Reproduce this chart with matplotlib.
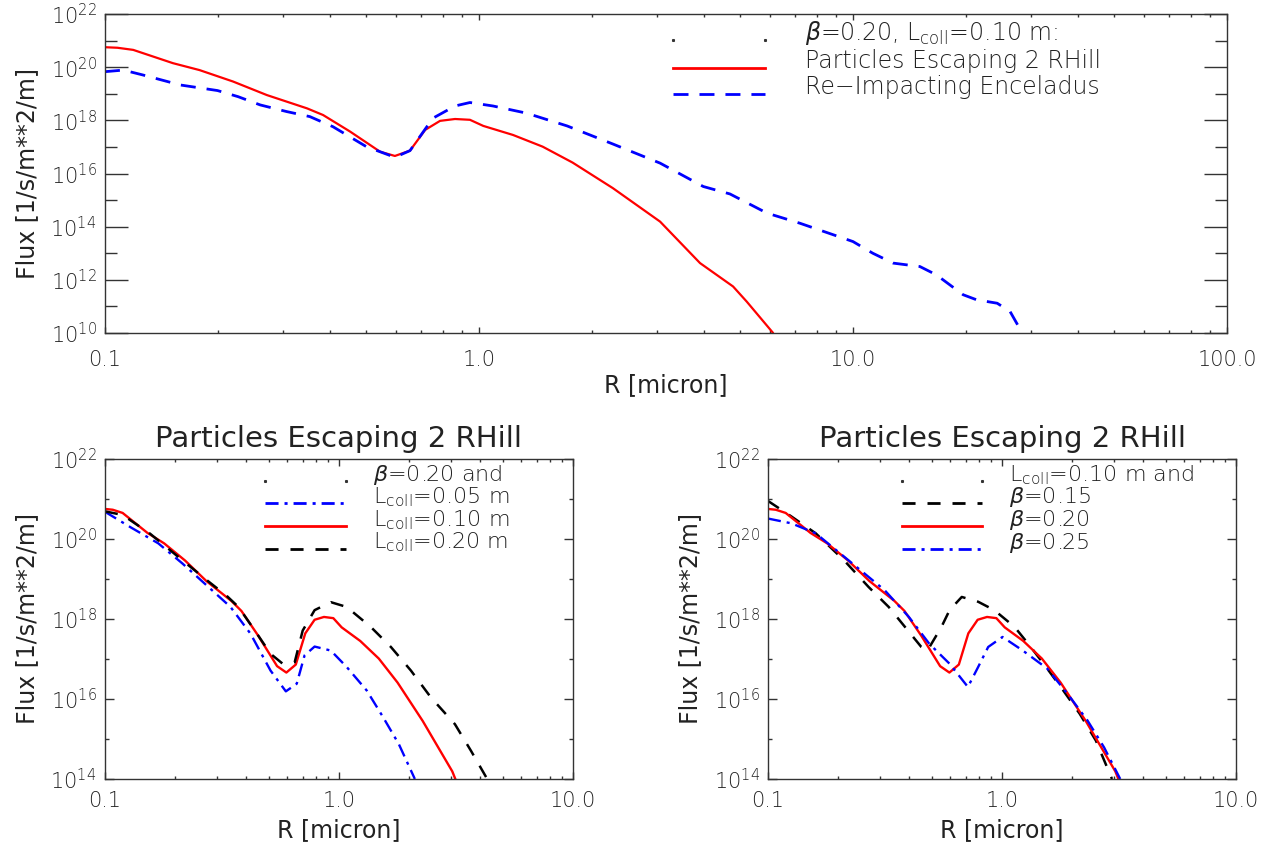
import matplotlib
matplotlib.use("Agg")
import matplotlib.pyplot as plt
import numpy as np
from matplotlib.ticker import FixedLocator, NullFormatter, LogLocator

# ---------------- data ----------------
# beta=0.20, Lcoll=0.10 m : particles escaping 2 RHill (red, used in all panels)
r_esc = [0.1, 0.108, 0.119, 0.152, 0.179, 0.22, 0.271, 0.347, 0.383, 0.452, 0.544,
         0.596, 0.654, 0.718, 0.787, 0.863, 0.946, 1.027, 1.233, 1.48, 1.78, 2.28,
         3.05, 3.90, 4.78, 5.2, 6.1]
logf_esc = [20.75, 20.73, 20.65, 20.15, 19.89, 19.46, 18.95, 18.45, 18.2, 17.58, 16.82,
            16.66, 16.86, 17.64, 17.98, 18.05, 18.02, 17.79, 17.45, 17.01, 16.41, 15.45,
            14.19, 12.63, 11.75, 11.18, 10.02]

# beta=0.20, Lcoll=0.10 m : re-impacting Enceladus (blue dashed, top panel)
r_imp = [0.1, 0.112, 0.126, 0.159, 0.2, 0.227, 0.26, 0.306, 0.353, 0.407, 0.5, 0.596,
         0.654, 0.753, 0.863, 0.946, 1.09, 1.34, 1.72, 2.28, 3.05, 3.98, 4.69, 5.89,
         7.21, 10.0, 11.3, 12.8, 15.1, 16.7, 19.7, 21.4, 24.3, 26.3, 28.3]
logf_imp = [19.83, 19.89, 19.71, 19.33, 19.12, 18.89, 18.58, 18.33, 18.14, 17.76, 17.01,
            16.61, 16.86, 18.08, 18.54, 18.67, 18.54, 18.27, 17.79, 17.11, 16.39, 15.51,
            15.23, 14.51, 14.13, 13.44, 13.0, 12.63, 12.5, 12.19, 11.44, 11.25, 11.12,
            10.81, 10.02]

# Lcoll = 0.05 m (blue dash-dot, lower left)
r_l005 = [0.1, 0.128, 0.169, 0.214, 0.272, 0.344, 0.419, 0.51, 0.593, 0.66, 0.713,
          0.787, 0.923, 1.079, 1.315, 1.542, 1.803, 2.11]
logf_l005 = [20.68, 20.3, 19.89, 19.39, 18.84, 18.3, 17.63, 16.71, 16.19, 16.38, 17.09,
             17.31, 17.21, 16.8, 16.21, 15.55, 14.87, 14.0]

# Lcoll = 0.20 m (black dashed, lower left)
r_l020 = [0.1, 0.119, 0.156, 0.214, 0.271, 0.331, 0.372, 0.437, 0.51, 0.575, 0.647,
          0.70, 0.787, 0.923, 1.079, 1.368, 1.667, 2.03, 2.47, 3.13, 3.67, 4.30]
logf_l020 = [20.69, 20.6, 20.13, 19.47, 18.98, 18.58, 18.3, 17.71, 17.13, 16.88, 16.92,
             17.71, 18.22, 18.42, 18.3, 17.8, 17.3, 16.71, 16.04, 15.37, 14.7, 14.0]

# beta = 0.15 (black dashed, lower right)
r_b015 = [0.1, 0.126, 0.16, 0.211, 0.269, 0.328, 0.385, 0.452, 0.48, 0.551, 0.597,
          0.673, 0.791, 0.927, 1.132, 1.327, 1.56, 1.828, 2.148, 2.518, 2.951]
logf_b015 = [20.95, 20.56, 20.14, 19.47, 18.8, 18.3, 17.8, 17.3, 17.21, 17.8, 18.22,
             18.55, 18.43, 18.22, 17.8, 17.3, 16.76, 16.21, 15.63, 14.96, 14.0]

# beta = 0.25 (blue dash-dot, lower right)
r_b025 = [0.1, 0.126, 0.16, 0.229, 0.315, 0.4, 0.489, 0.597, 0.715, 0.791, 0.873,
          1.005, 1.227, 1.56, 1.905, 2.32, 2.73, 3.2]
logf_b025 = [20.51, 20.39, 20.14, 19.39, 18.72, 18.05, 17.38, 16.88, 16.3, 16.8, 17.3,
             17.55, 17.21, 16.76, 16.13, 15.46, 14.79, 14.0]

x_ticks_top = [0.1, 1.0, 10.0, 100.0]
x_labels_top = ['0.1', '1.0', '10.0', '100.0']
x_ticks_bot = [0.1, 1.0, 10.0]
x_labels_bot = ['0.1', '1.0', '10.0']
y_exp_top = [10, 12, 14, 16, 18, 20, 22]
y_exp_bot = [14, 16, 18, 20, 22]

title_bot = 'Particles Escaping 2 RHill'
xlabel = 'R [micron]'
ylabel = 'Flux [1/s/m**2/m]'

# ---------------- style ----------------
plt.rcParams['font.family'] = ['DejaVu Sans']
plt.rcParams['font.weight'] = 'light'
plt.rcParams['lines.scale_dashes'] = False
TXT = '#222222'
RED = '#ff0000'
BLUE = '#0000ff'
BLK = '#000000'
DASH_TOP = (10.8, 7.9)
DASH_BOT = (9.4, 8.6)
DASHDOT = (9.4, 4.3, 2.2, 4.3)

fig = plt.figure(figsize=(12.69, 8.48), dpi=100)
ax_t = fig.add_axes([0.0827, 0.6073, 0.8842, 0.3762])
ax_l = fig.add_axes([0.0827, 0.0814, 0.3688, 0.3774])
ax_r = fig.add_axes([0.6052, 0.0814, 0.3688, 0.3774])


def pw(lst):
    return 10.0 ** np.asarray(lst)


def style(ax, xlim, ylim, xt, xl, ye, ymaj, ymin, xmaj, xmin, ylab_x, xpad):
    ax.set_xscale('log')
    ax.set_yscale('log')
    ax.set_xlim(*xlim)
    ax.set_ylim(*ylim)
    ax.set_xticks(xt)
    ax.set_xticklabels(xl)
    ax.xaxis.set_minor_locator(LogLocator(base=10, subs=np.arange(2, 10)))
    ax.xaxis.set_minor_formatter(NullFormatter())
    ax.set_yticks([10.0 ** e for e in ye])
    ax.set_yticklabels([r'$\mathregular{10^{%d}}$' % e for e in ye])
    odd = [10.0 ** (e + 1) for e in ye[:-1]]
    ax.yaxis.set_minor_locator(FixedLocator(odd))
    ax.yaxis.set_minor_formatter(NullFormatter())
    ax.tick_params(axis='both', which='both', direction='in', top=True, right=True,
                   color='#333333', width=1.0, labelcolor=TXT, labelsize=15)
    ax.tick_params(axis='y', which='major', length=ymaj, pad=6)
    ax.tick_params(axis='y', which='minor', length=ymin)
    ax.tick_params(axis='x', which='major', length=xmaj, pad=xpad)
    ax.tick_params(axis='x', which='minor', length=xmin)
    for s in ax.spines.values():
        s.set_color('#333333')
        s.set_linewidth(1.0)
    ax.set_xlabel(xlabel, fontsize=17, color=TXT)
    ax.set_ylabel(ylabel, fontsize=17, color=TXT)
    ax.yaxis.set_label_coords(ylab_x, 0.5)
    ax.yaxis.label.set_va('center')


style(ax_t, (0.1, 100), (1e10, 1e22), x_ticks_top, x_labels_top, y_exp_top,
      16.6, 8.6, 4.0, 2.0, -0.0695, 12)
style(ax_l, (0.1, 10), (1e14, 1e22), x_ticks_bot, x_labels_bot, y_exp_bot,
      6.5, 3.2, 4.7, 2.2, -0.1667, 9)
style(ax_r, (0.1, 10), (1e14, 1e22), x_ticks_bot, x_labels_bot, y_exp_bot,
      6.5, 3.2, 4.7, 2.2, -0.1667, 9)
ax_t.xaxis.set_label_coords(0.5, -0.163)
ax_t.xaxis.label.set_va('center')
for ax in (ax_l, ax_r):
    ax.xaxis.set_label_coords(0.5, -0.159)
    ax.xaxis.label.set_va('center')
    ax.set_title(title_bot, fontsize=21, color=TXT, pad=8.5)

# ---------------- curves ----------------
ax_t.plot(r_esc, pw(logf_esc), color=RED, lw=1.6)
ax_t.plot(r_imp, pw(logf_imp), color=BLUE, lw=2.0, dashes=DASH_TOP)

ax_l.plot(r_l005, pw(logf_l005), color=BLUE, lw=1.7, dashes=DASHDOT)
ax_l.plot(r_esc, pw(logf_esc), color=RED, lw=1.7)
ax_l.plot(r_l020, pw(logf_l020), color=BLK, lw=1.8, dashes=DASH_BOT)

ax_r.plot(r_b015, pw(logf_b015), color=BLK, lw=1.8, dashes=DASH_BOT)
ax_r.plot(r_esc, pw(logf_esc), color=RED, lw=1.7)
ax_r.plot(r_b025, pw(logf_b025), color=BLUE, lw=1.7, dashes=DASHDOT)


# ---------------- IDL-style legends ----------------
def legend(ax, x0, x1, xt, rows, fs):
    for (yy, text, kw) in rows:
        if kw is None:
            ax.plot([x0, x1], [yy, yy], transform=ax.transAxes, ls='none',
                    marker='s', ms=1.2, color='#333333', clip_on=False)
        else:
            ax.plot([x0, x1], [yy, yy], transform=ax.transAxes, clip_on=False, **kw)
        ax.text(xt, yy, text, transform=ax.transAxes, fontsize=fs, color=TXT,
                va='baseline', ha='left')


legend(ax_t, 0.506, 0.588, 0.624, [
    (0.918, r'$\beta$=0.20, L$_{\rm coll}$=0.10 m:', None),
    (0.832, 'Particles Escaping 2 RHill', dict(color=RED, lw=2.0)),
    (0.748, 'Re\u2212Impacting Enceladus', dict(color=BLUE, lw=2.0, dashes=DASH_TOP)),
], 17)

legend(ax_l, 0.343, 0.516, 0.572, [
    (0.931, r'$\beta$=0.20 and', None),
    (0.861, r'L$_{\rm coll}$=0.05 m', dict(color=BLUE, lw=2.0, dashes=DASHDOT)),
    (0.790, r'L$_{\rm coll}$=0.10 m', dict(color=RED, lw=2.0)),
    (0.720, r'L$_{\rm coll}$=0.20 m', dict(color=BLK, lw=2.0, dashes=DASH_BOT)),
], 16)

legend(ax_r, 0.286, 0.457, 0.514, [
    (0.931, r'L$_{\rm coll}$=0.10 m and', None),
    (0.861, r'$\beta$=0.15', dict(color=BLK, lw=2.0, dashes=DASH_BOT)),
    (0.790, r'$\beta$=0.20', dict(color=RED, lw=2.0)),
    (0.720, r'$\beta$=0.25', dict(color=BLUE, lw=2.0, dashes=DASHDOT)),
], 16)

fig.savefig('out.png', dpi=100)
